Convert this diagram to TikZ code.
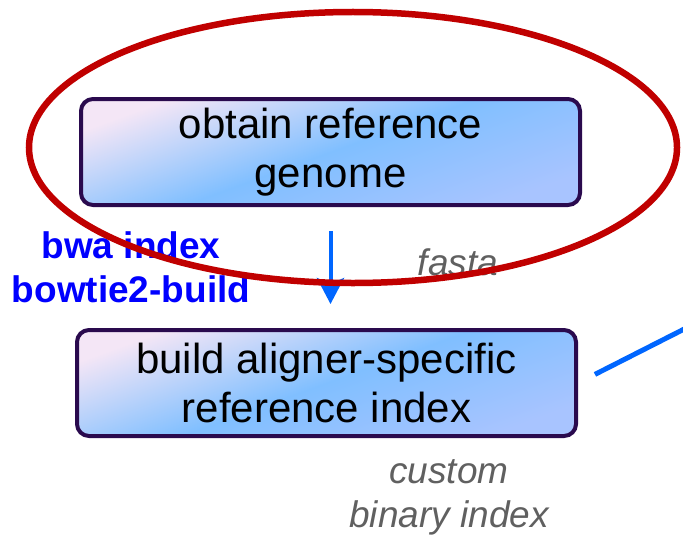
\documentclass[tikz,border=0pt]{standalone}
\usepackage{fontspec}
\setmainfont{Liberation Sans}
\usetikzlibrary{arrows.meta,positioning,shapes.geometric}
\definecolor{boxedge}{HTML}{2A0A4E}
\definecolor{boxpink}{HTML}{F4E6F6}
\definecolor{boxblue}{HTML}{80BFFF}
\definecolor{boxlav}{HTML}{A8C4FF}
\definecolor{flowblue}{HTML}{0066FF}
\definecolor{cmdblue}{HTML}{0000FF}
\definecolor{notegray}{HTML}{606060}
\definecolor{ringred}{HTML}{C00000}

\begin{document}
\begin{tikzpicture}[x=0.5pt, y=-0.5pt,
  node distance=60.5pt,
  stage/.style={draw=boxedge, line width=2pt, rounded corners=6pt, align=center, font=\fontsize{21}{24.5}\selectfont, minimum width=249.5pt, minimum height=53pt, inner sep=0pt, top color=boxpink, bottom color=boxlav, middle color=boxblue, shading angle=20},
  cmd/.style={align=center, text=cmdblue, font=\fontsize{18.5}{22}\selectfont\bfseries},
  fmt/.style={align=center, text=notegray, font=\fontsize{18.5}{22}\selectfont\itshape},
  arr/.style={-{Stealth[length=13pt, width=13.5pt, inset=3pt]}, draw=flowblue, line width=2pt, shorten <=12pt, shorten >=12pt},
  link/.style={draw=flowblue, line width=2.5pt, shorten <=9.5pt},
  ring/.style={draw=ringred, line width=3.25pt}]
\useasboundingbox (0,0) rectangle (683,540);
\node[stage] (ref) at (330.5,152) {obtain reference\\genome};
\node[stage, below=of ref, xshift=-2pt] (idx) {build aligner-specific\\reference index};
\draw[arr] (ref.south) -- (ref.south |- idx.north);
\node[cmd] (tools) at (131,267) {bwa index\\bowtie2-build};
\node[fmt] (fasta) at (458,262) {fasta};
\node[fmt] (binidx) at (449,497) {custom\\binary index};
\coordinate (next) at (700,321);
\draw[link] (idx.east) -- (next);
\node[ring, ellipse, minimum width=324pt, minimum height=135.5pt] (focus) at (353,147.5) {};
\end{tikzpicture}
\end{document}
